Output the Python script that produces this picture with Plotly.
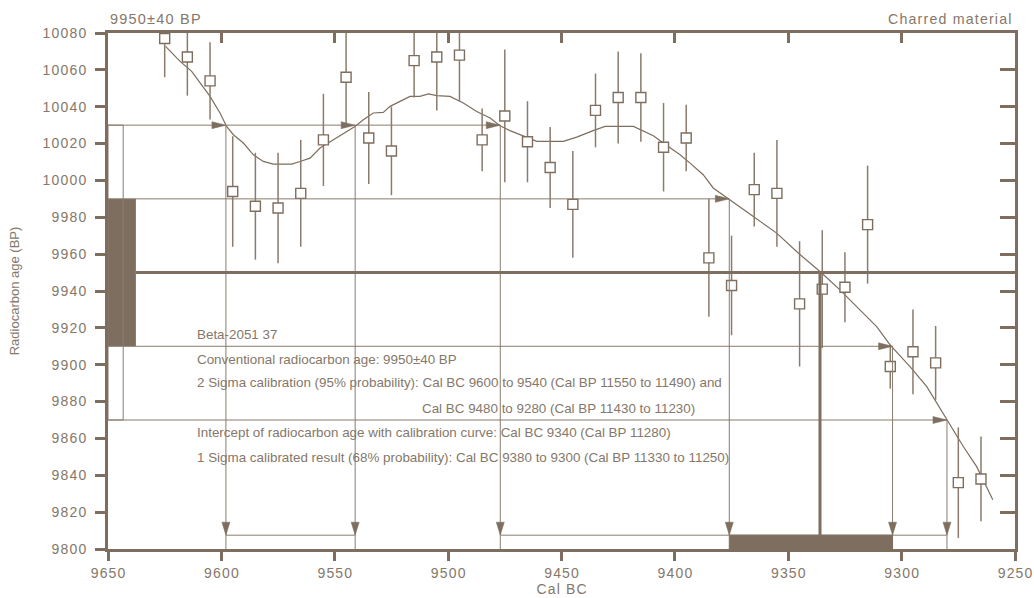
import plotly.graph_objects as go

# measured radiocarbon ages on the calibration data set
cal_bc = [9625, 9615, 9605, 9595, 9585, 9575, 9565, 9555, 9545, 9535, 9525, 9515, 9505,
          9495, 9485, 9475, 9465, 9455, 9445, 9435, 9425, 9415, 9405, 9395, 9385, 9375,
          9365, 9355, 9345, 9335, 9325, 9315, 9305, 9295, 9285, 9275, 9265]
age_bp = [10077, 10067, 10054, 9994, 9986, 9985, 9993, 10022, 10056, 10023, 10016, 10065, 10067,
          10068, 10022, 10035, 10021, 10007, 9987, 10038, 10045, 10045, 10018, 10023, 9958, 9943,
          9995, 9993, 9933, 9941, 9942, 9976, 9899, 9907, 9901, 9836, 9838]
age_err = [21, 21, 21, 30, 29, 30, 29, 25, 27, 25, 24, 20, 29,
           25, 17, 36, 22, 22, 29, 20, 25, 24, 24, 18, 32, 27,
           20, 29, 34, 32, 19, 32, 12, 23, 20, 30, 23]

# calibration curve (traced)
curve_bc = [9624.6, 9618.2, 9613.1, 9609.4, 9605.0, 9600.6, 9597.7, 9594.7, 9590.3, 9585.9,
            9581.5, 9577.1, 9569.0, 9565.3, 9560.9, 9556.5, 9550.6, 9544.7, 9541.1, 9537.4,
            9533.0, 9528.6, 9525.6, 9521.2, 9516.8, 9512.4, 9508.7, 9505.0, 9499.2, 9493.3,
            9487.4, 9481.5, 9477.1, 9472.7, 9466.8, 9460.9, 9449.2, 9443.3, 9436.0, 9430.8,
            9418.3, 9413.9, 9409.5, 9405.1, 9397.7, 9393.3, 9387.5, 9383.1, 9376.4, 9365.4,
            9355.1, 9345.6, 9336.0, 9327.2, 9318.4, 9311.0, 9305.1, 9296.3, 9288.9, 9280.1,
            9272.8, 9266.9, 9259.8]
curve_bp = [10072.7, 10064.6, 10059.2, 10052.9, 10045.6, 10036.6, 10029.3, 10024.8, 10020.3, 10013.9,
            10010.3, 10008.9, 10008.9, 10010.3, 10012.1, 10017.6, 10022.1, 10026.6, 10029.3, 10032.9,
            10036.6, 10036.9, 10040.2, 10042.9, 10045.6, 10045.6, 10047.0, 10046.0, 10045.6, 10042.0,
            10037.4, 10033.9, 10029.7, 10027.0, 10023.9, 10021.2, 10021.2, 10023.5, 10027.0, 10029.3,
            10029.3, 10026.6, 10024.2, 10020.3, 10013.9, 10009.4, 10003.1, 9995.9, 9989.9, 9980.4,
            9971.4, 9960.6, 9950.6, 9940.6, 9929.8, 9920.7, 9910.8, 9899.0, 9888.1, 9870.1,
            9855.6, 9844.7, 9826.7]

# sample result
sample_age = 9950
sigma1 = [9910, 9990]
sigma2 = [9870, 10030]
hits_2s_hi = [9598, 9541, 9477]   # upper 2 sigma limit meets the curve
hits_2s_lo = [9280]
hits_1s_hi = [9376]
hits_1s_lo = [9304]
intercept = 9336
ranges_2s = [[9598, 9541], [9477, 9280]]
range_1s = [9376, 9304]

x_ticks = [9650, 9600, 9550, 9500, 9450, 9400, 9350, 9300, 9250]
y_ticks = [9800, 9820, 9840, 9860, 9880, 9900, 9920, 9940, 9960, 9980,
           10000, 10020, 10040, 10060, 10080]

result_lines = [
    "Beta-2051 37",
    "Conventional radiocarbon age: 9950\u00b140 BP",
    "2 Sigma calibration (95% probability): Cal BC 9600 to 9540 (Cal BP 11550 to 11490) and",
    "Cal BC 9480 to 9280 (Cal BP 11430 to 11230)",
    "Intercept of radiocarbon age with calibration curve: Cal BC 9340 (Cal BP 11280)",
    "1 Sigma calibrated result (68% probability): Cal BC 9380 to 9300 (Cal BP 11330 to 11250)",
]

BROWN = "#7d6e5f"
LINE = "#8a7b6c"
TEXT = "#85786a"
FONT = "Arial, Liberation Sans, sans-serif"
HS = "\u200a"

W, H = 1034, 598
ML, MR, MT, MB = 108, 19, 33, 49
x_lo, x_hi = 9650, 9250
y_lo, y_hi = 9800, 10080
px_x = (W - ML - MR) / (x_lo - x_hi)
px_y = (H - MT - MB) / (y_hi - y_lo)
box_top = 9807.5
box_bot = 9798


def spaced(s):
    return HS.join(s)


def head(tx, ty, direction):
    # slender filled arrowhead, 14 px long, 7 px wide
    if direction == "right":
        L, w = 14 / px_x, 3.5 / px_y
        pts = [(tx, ty), (tx + L, ty + w), (tx + L, ty - w)]
    else:
        L, w = 13 / px_y, 4 / px_x
        pts = [(tx, ty), (tx - w, ty + L), (tx + w, ty + L)]
    path = "M " + " L ".join(f"{a},{b}" for a, b in pts) + " Z"
    return dict(type="path", path=path, xref="x", yref="y",
                fillcolor=BROWN, line=dict(color=BROWN, width=0.5))


def hline(y, x0, x1, width=1, color=LINE):
    return dict(type="line", xref="x", yref="y", x0=x0, x1=x1, y0=y, y1=y,
                line=dict(color=color, width=width))


def vline(x, y0, y1, width=1, color=LINE):
    return dict(type="line", xref="x", yref="y", x0=x, x1=x, y0=y0, y1=y1,
                line=dict(color=color, width=width))


fig = go.Figure()

fig.add_trace(go.Scatter(
    x=curve_bc, y=curve_bp, mode="lines",
    line=dict(color=BROWN, width=1.2), hoverinfo="skip", showlegend=False))

fig.add_trace(go.Scatter(
    x=cal_bc, y=age_bp, mode="markers",
    marker=dict(symbol="square", size=10, color="white", line=dict(color=BROWN, width=1.4)),
    error_y=dict(type="data", array=age_err, visible=True, color=LINE, thickness=1.5, width=0),
    showlegend=False))

# dummy trace so the mirrored axes (top / right, ticks inside) get drawn
fig.add_trace(go.Scatter(x=[None], y=[None], xaxis="x2", yaxis="y2",
                         showlegend=False, hoverinfo="skip"))

shapes = []
# sample age bars on the y axis
shapes.append(dict(type="rect", xref="x", yref="y", x0=x_lo, x1=x_lo - 12.3,
                   y0=sigma1[0], y1=sigma1[1], fillcolor=BROWN, line=dict(width=0)))
shapes.append(dict(type="rect", xref="x", yref="y", x0=x_lo, x1=x_lo - 6.7,
                   y0=sigma2[0], y1=sigma2[1], line=dict(color=LINE, width=1)))

# horizontal lines from the sigma limits to the curve
shapes.append(hline(sigma2[1], x_lo, hits_2s_hi[-1]))
shapes.append(hline(sigma2[0], x_lo, hits_2s_lo[-1]))
shapes.append(hline(sigma1[1], x_lo, hits_1s_hi[-1]))
shapes.append(hline(sigma1[0], x_lo, hits_1s_lo[-1]))
for h in hits_2s_hi:
    shapes.append(head(h, sigma2[1], "right"))
    shapes.append(vline(h, sigma2[1], box_top))
    shapes.append(head(h, box_top, "down"))
for h in hits_2s_lo:
    shapes.append(head(h, sigma2[0], "right"))
    shapes.append(vline(h, sigma2[0], box_top))
    shapes.append(head(h, box_top, "down"))
for h in hits_1s_hi:
    shapes.append(head(h, sigma1[1], "right"))
    shapes.append(vline(h, sigma1[1], box_top))
    shapes.append(head(h, box_top, "down"))
for h in hits_1s_lo:
    shapes.append(head(h, sigma1[0], "right"))
    shapes.append(vline(h, sigma1[0], box_top))
    shapes.append(head(h, box_top, "down"))

# sample age and intercept
shapes.append(hline(sample_age, x_lo - 12.3, x_hi, width=3, color=BROWN))
shapes.append(vline(intercept, sample_age, box_top, width=3, color=BROWN))

# calibrated ranges on the x axis
for a, b in ranges_2s:
    shapes.append(dict(type="rect", xref="x", yref="y", x0=a, x1=b, y0=box_bot, y1=box_top,
                       fillcolor="white", line=dict(color=LINE, width=1)))
shapes.append(dict(type="rect", xref="x", yref="y", x0=range_1s[0], x1=range_1s[1],
                   y0=box_bot, y1=box_top, fillcolor=BROWN, line=dict(color=BROWN, width=1)))

annotations = []
line_y = [0.416, 0.368, 0.322, 0.273, 0.226, 0.178]
line_x = [0.096, 0.096, 0.096, 0.344, 0.096, 0.096]
for txt, xx, yy in zip(result_lines, line_x, line_y):
    annotations.append(dict(text=txt, xref="paper", yref="paper", x=xx, y=yy,
                            xanchor="left", yanchor="middle", showarrow=False,
                            font=dict(family=FONT, size=13.4, color=TEXT)))
annotations.append(dict(text=spaced("9950\u00b140 BP"), xref="paper", yref="paper", x=0, y=1.027,
                        xanchor="left", yanchor="middle", showarrow=False,
                        font=dict(family=FONT, size=14.5, color=TEXT)))
annotations.append(dict(text=spaced("Charred material"), xref="paper", yref="paper", x=0.998, y=1.027,
                        xanchor="right", yanchor="middle", showarrow=False,
                        font=dict(family=FONT, size=14.2, color=TEXT)))

axis_common = dict(showgrid=False, zeroline=False, showline=True, linewidth=3,
                   linecolor=BROWN, tickcolor=BROWN, tickwidth=3)

fig.update_layout(
    width=W, height=H,
    margin=dict(l=ML, r=MR, t=MT, b=MB),
    plot_bgcolor="white", paper_bgcolor="white",
    font=dict(family=FONT, color=TEXT),
    xaxis=dict(range=[x_lo, x_hi], tickvals=x_ticks, ticktext=[spaced(str(v)) for v in x_ticks],
               ticks="outside", ticklen=9, ticklabelstandoff=0,
               tickfont=dict(size=14, color=TEXT),
               title=dict(text=spaced("Cal BC"), font=dict(size=14, color=TEXT), standoff=5),
               automargin=False, **axis_common),
    yaxis=dict(range=[y_lo, y_hi], tickvals=y_ticks, ticktext=[spaced(str(v)) for v in y_ticks],
               ticks="outside", ticklen=10, ticklabelstandoff=6,
               tickfont=dict(size=14, color=TEXT),
               title=dict(text="Radiocarbon age (BP)", font=dict(size=13, color=TEXT), standoff=21),
               automargin=False, **axis_common),
    xaxis2=dict(range=[x_lo, x_hi], overlaying="x", side="top", tickvals=x_ticks[1:-1],
                ticks="inside", ticklen=10, showticklabels=False, **axis_common),
    yaxis2=dict(range=[y_lo, y_hi], overlaying="y", side="right", tickvals=y_ticks[1:-1],
                ticks="inside", ticklen=15, showticklabels=False, **axis_common),
    shapes=shapes,
    annotations=annotations,
    showlegend=False,
)

# drop the default page margin so the figure fills the window exactly
fig.write_html("out.html", config={"displayModeBar": False},
               post_script="document.body.style.margin = '0';")
